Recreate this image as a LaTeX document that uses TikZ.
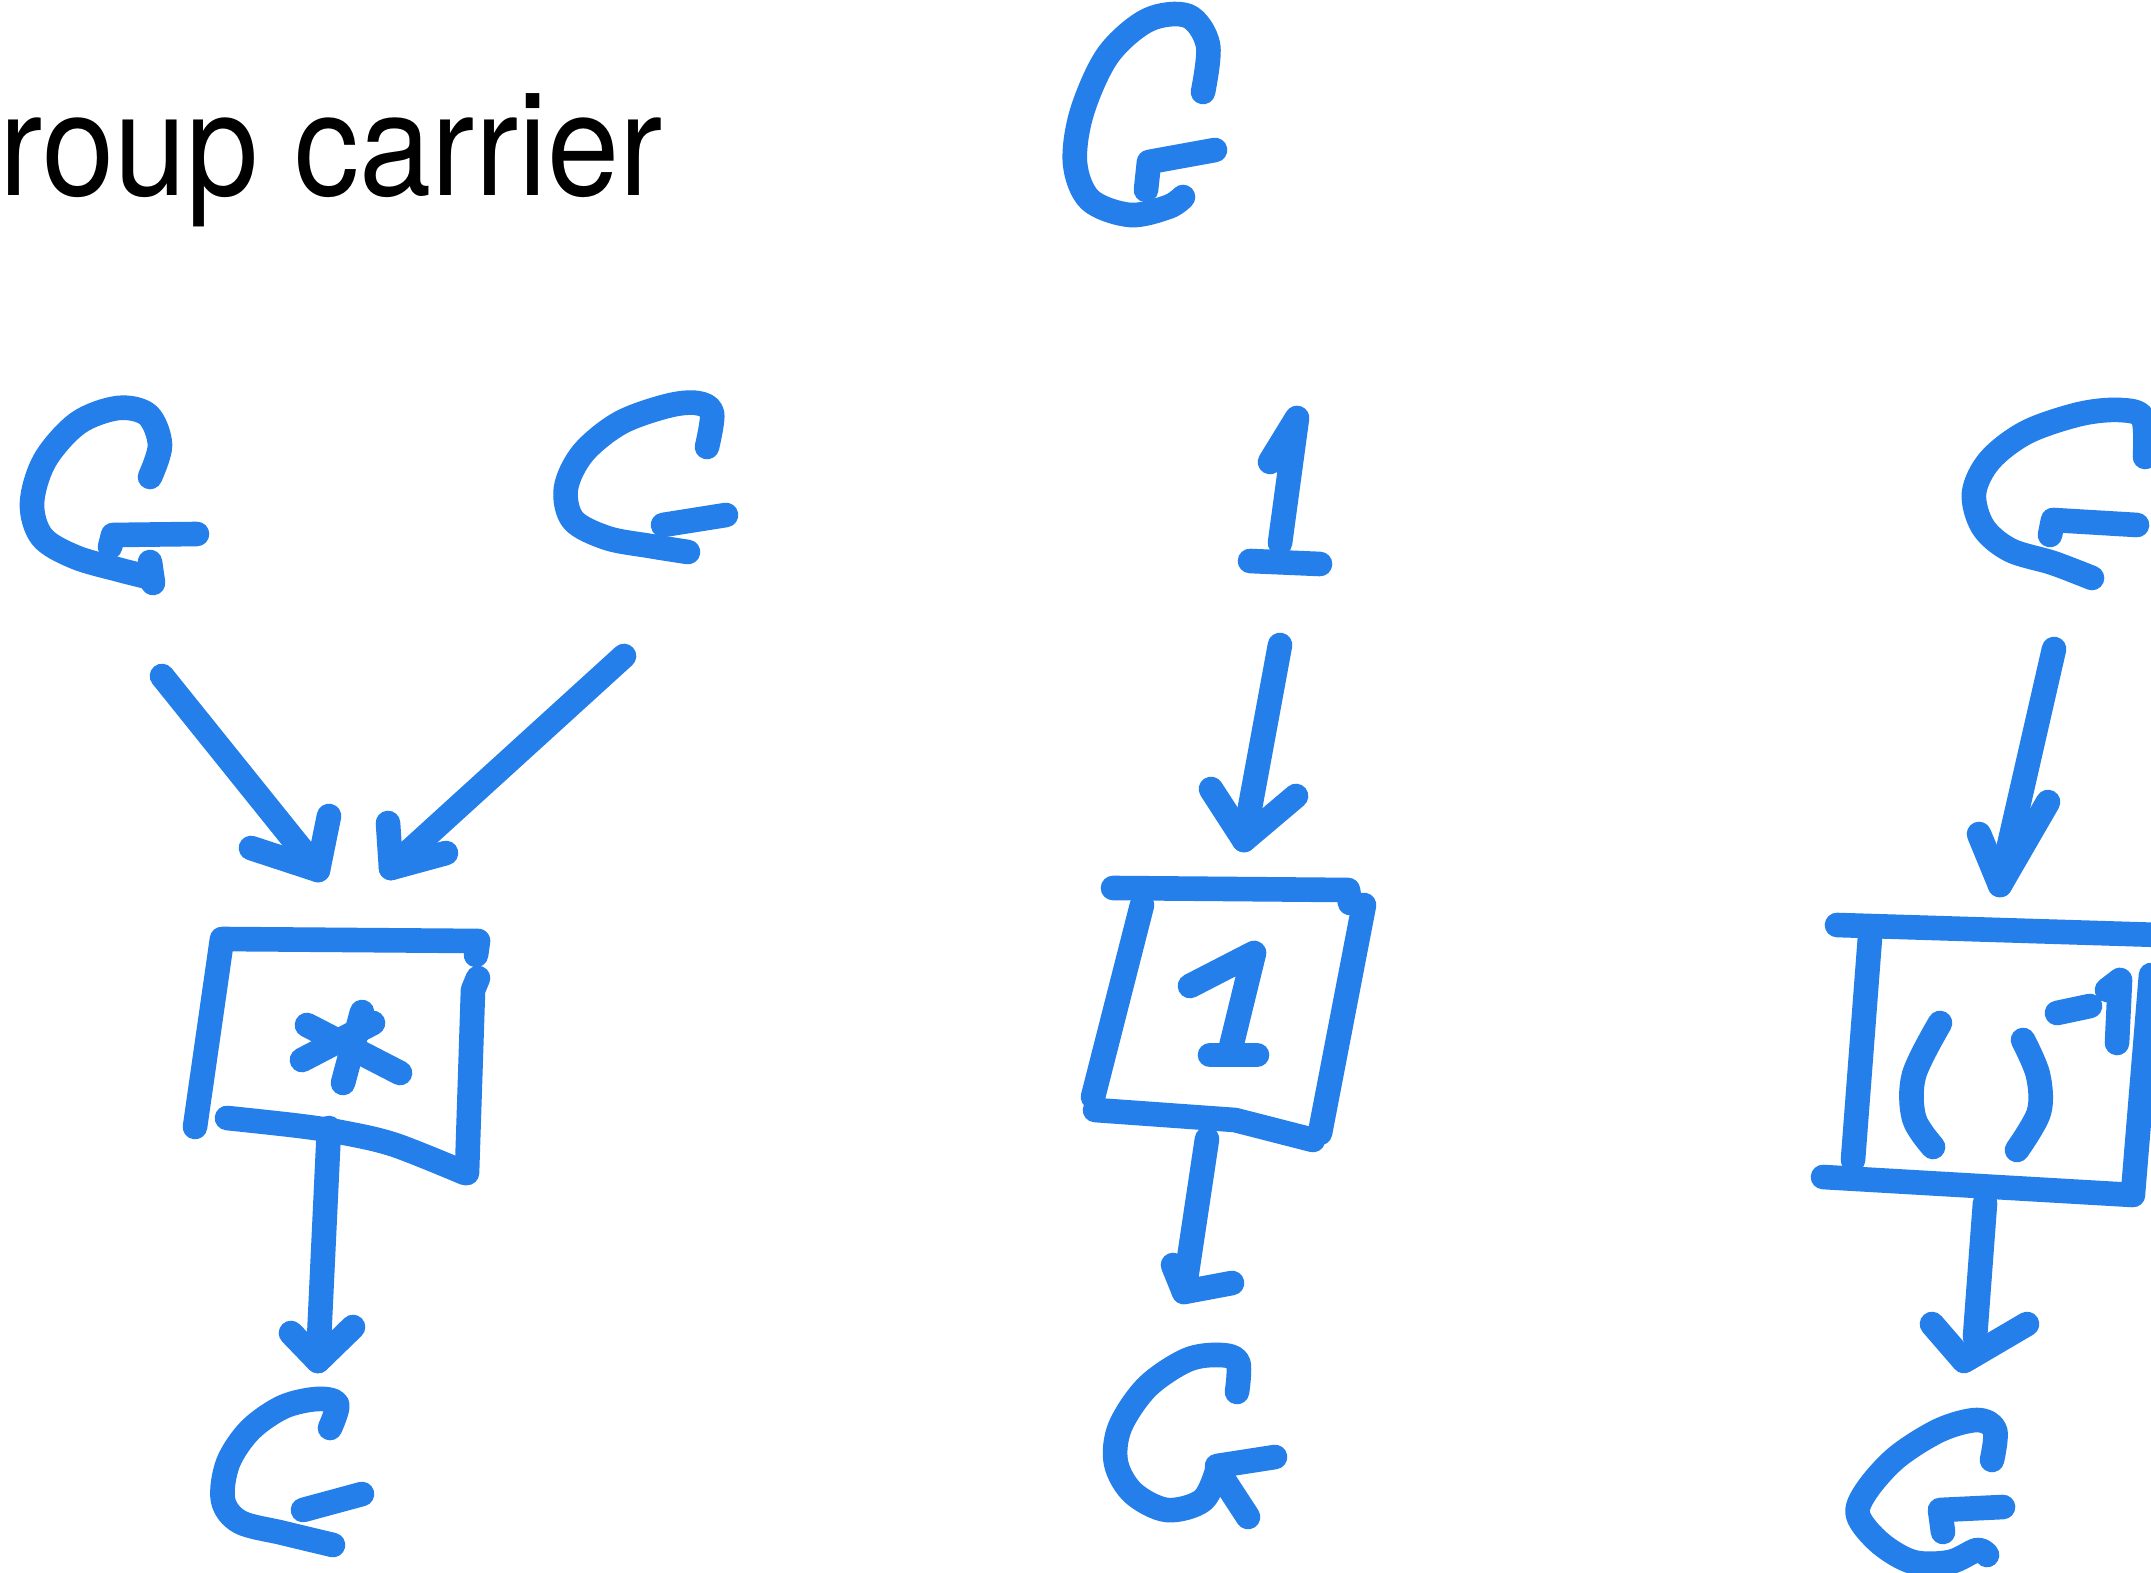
\documentclass[tikz,border=0pt]{standalone}
\usepackage{fontspec}
\newfontfamily\titlefont{TeX Gyre Heros}
\definecolor{crayon}{RGB}{36,127,234}
\tikzset{
  crayon/.style={draw=crayon, line width=7pt, line cap=round, line join=round},
  wiggle/.style={crayon, smooth, tension=0.55},
}
\begin{document}
\begin{tikzpicture}[x=0.01cm, y=-0.01cm]
\useasboundingbox[fill=white] (0,0) rectangle (2151,1573);

% heading
\node[anchor=base west, inner sep=0pt] (title) at (-1,196)
  {\scalebox{0.9}[1]{\titlefont\fontsize{41}{44}\selectfont roup carrier}};

% ---------- hand-drawn G letters ----------
% top G
\draw[wiggle] plot coordinates {(1203,92) (1208,45) (1188,16) (1148,20) (1108,55) (1082,112) (1075,163) (1090,200) (1130,215) (1168,207) (1183,197)};
\draw[crayon] (1146,190) -- (1149,162) -- (1215,150);

% left input G
\draw[wiggle] plot coordinates {(150,477) (160,445) (148,415) (118,408) (78,423) (45,460) (32,503) (42,537) (75,557) (120,570) (152,578)};
\draw[crayon] (153,583) -- (150,562);
\draw[crayon] (110,547) -- (113,535) -- (197,534);
\coordinate (gA-out) at (162,676);

% right input G
\draw[wiggle] plot coordinates {(707,447) (712,413) (697,403) (667,406) (620,423) (583,453) (566,488) (573,520) (607,538) (650,546) (688,552)};
\draw[crayon] (663,525) -- (726,515);
\coordinate (gB-out) at (624,656);

% input G of the inverse
\draw[wiggle] plot coordinates {(2145,457) (2143,418) (2120,410) (2080,414) (2027,432) (1990,460) (1974,493) (1983,527) (2010,550) (2053,563) (2092,578)};
\draw[crayon] (2050,535) -- (2053,520) -- (2137,525);
\coordinate (gC-out) at (2054,649);

% output G of the product
\draw[wiggle] plot coordinates {(330,1428) (337,1404) (317,1399) (283,1407) (250,1430) (228,1463) (223,1500) (240,1522) (283,1533) (333,1545)};
\draw[crayon] (303,1510) -- (362,1494);
\coordinate (gD-in) at (318,1361);

% output G of the unit
\draw[wiggle] plot coordinates {(1237,1392) (1238,1362) (1220,1355) (1187,1360) (1147,1387) (1120,1427) (1116,1463) (1133,1493) (1167,1510) (1203,1500) (1218,1468)};
\draw[crayon] (1217,1466) -- (1275,1457);
\draw[crayon] (1220,1474) -- (1248,1517);
\coordinate (gE-in) at (1184,1292);

% output G of the inverse
\draw[wiggle] plot coordinates {(1992,1460) (1995,1430) (1977,1420) (1940,1430) (1897,1457) (1867,1490) (1858,1515) (1880,1543) (1913,1562) (1950,1562) (1977,1550) (1987,1555)};
\draw[crayon] (1943,1532) -- (1940,1510) -- (2003,1507);
\coordinate (gF-in) at (1964,1361);

% the unit input "1"
\draw[crayon] (1270,462) -- (1297,418) -- (1280,543);
\draw[crayon] (1250,561) -- (1320,564);
\coordinate (one-out) at (1280,645);

% ---------- boxes ----------
% product box
\draw[crayon] (195,1127) -- (222,939) -- (478,941) -- (476,955);
\draw[crayon] (478,978) -- (473,990) -- (467,1173);
\draw[wiggle] plot coordinates {(227,1118) (300,1126) (345,1133) (395,1145) (465,1173)};
\draw[crayon] (307,1025) -- (400,1073);
\draw[crayon] (302,1060) -- (373,1023);
\draw[crayon] (362,1012) -- (343,1083);
\coordinate (mul-in) at (318,870);
\coordinate (mul-in2) at (391,868);
\coordinate (mul-out) at (329,1128);

% unit box
\draw[crayon] (1093,1097) -- (1142,905);
\draw[crayon] (1113,888) -- (1348,890) -- (1350,903);
\draw[crayon] (1364,905) -- (1320,1133);
\draw[crayon] (1095,1110) -- (1235,1120) -- (1313,1140);
\draw[crayon] (1190,986) -- (1254,953) -- (1231,1047);
\draw[crayon] (1210,1055) -- (1257,1055);
\coordinate (unit-in) at (1244,840);
\coordinate (unit-out) at (1207,1139);

% inverse box
\draw[crayon] (1837,925) -- (2160,935);
\draw[crayon] (1870,937) -- (1853,1160);
\draw[crayon] (1823,1177) -- (2133,1195);
\draw[crayon] (2133,1193) -- (2151,975);
\draw[wiggle] plot coordinates {(1940,1023) (1914,1075) (1914,1118) (1933,1147)};
\draw[wiggle] plot coordinates {(2023,1040) (2038,1075) (2039,1112) (2017,1150)};
\draw[crayon] (2057,1013) -- (2090,1006);
\draw[crayon] (2107,990) -- (2120,980) -- (2117,1043);
\coordinate (inv-in) at (2000,885);
\coordinate (inv-out) at (1985,1203);

% ---------- arrows ----------
\draw[crayon] (gA-out) -- (mul-in);
\draw[crayon] (251,848) -- (mul-in) -- (329,816);

\draw[crayon] (gB-out) -- (mul-in2);
\draw[crayon] (388,823) -- (mul-in2) -- (446,853);

\draw[crayon] (mul-out) -- (gD-in);
\draw[crayon] (291,1333) -- (gD-in) -- (353,1327);

\draw[crayon] (one-out) -- (unit-in);
\draw[crayon] (1211,789) -- (unit-in) -- (1296,796);

\draw[crayon] (unit-out) -- (gE-in);
\draw[crayon] (1173,1265) -- (gE-in) -- (1232,1283);

\draw[crayon] (gC-out) -- (inv-in);
\draw[crayon] (1979,834) -- (inv-in) -- (2048,802);

\draw[crayon] (inv-out) -- (1975,1337);
\draw[crayon] (1932,1324) -- (gF-in) -- (2027,1324);
\end{tikzpicture}
\end{document}
